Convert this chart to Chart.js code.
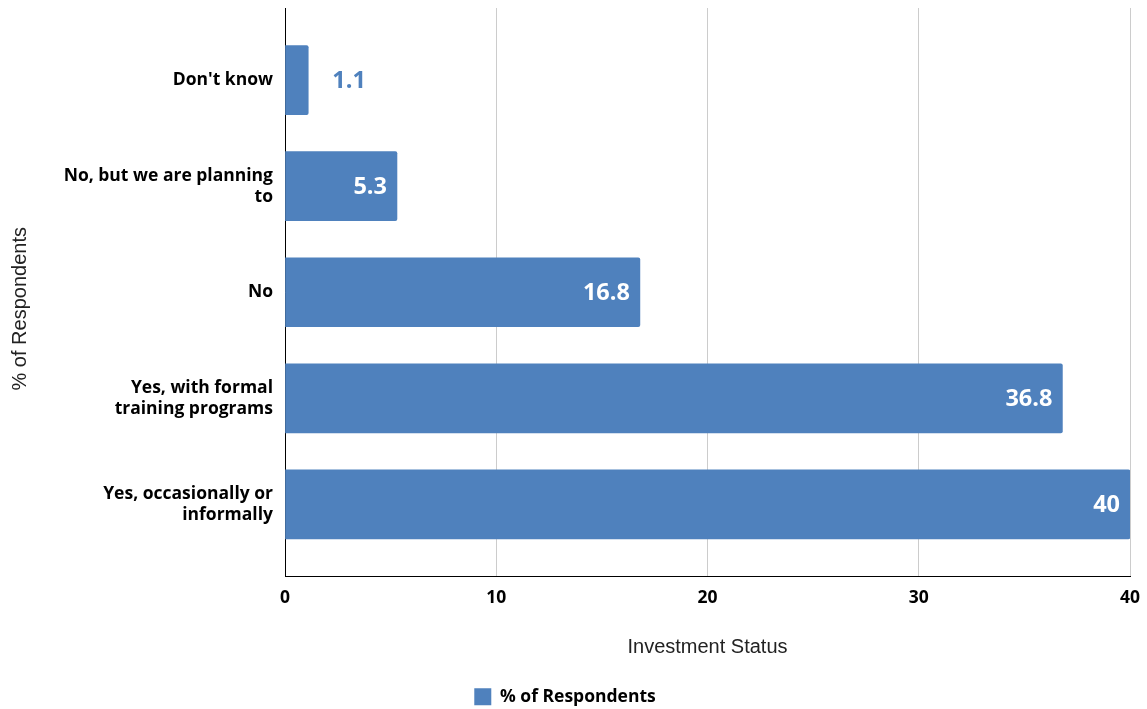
<!DOCTYPE html>
<html>
<head>
<meta charset="utf-8">
<title>Investment Status</title>
<script src="https://cdn.jsdelivr.net/npm/chart.js@4/dist/chart.umd.min.js"></script>
<style>
  html, body { margin: 0; padding: 0; background: #ffffff; }
  #wrap { width: 1147px; height: 709px; }
</style>
</head>
<body>
<div id="wrap"><canvas id="chart" width="1147" height="709"></canvas></div>
<script>
// Categories (top to bottom) and their share of respondents, in percent
const categoryLabels = [
  "Don't know",
  ["No, but we are planning", "to"],
  "No",
  ["Yes, with formal", "training programs"],
  ["Yes, occasionally or", "informally"]
];
const respondentShares = [1.1, 5.3, 16.8, 36.8, 40];
const xTickValues = [0, 10, 20, 30, 40];
const seriesName = '% of Respondents';
const xAxisTitle = 'Investment Status';
const yAxisTitle = '% of Respondents';

const BAR_COLOR = '#4f81bd';
const LABEL_FONT = '"Open Sans", "Noto Sans", sans-serif';
const TITLE_FONT = '"Liberation Sans", Arial, sans-serif';

// Value labels: inside the bar end in white, or just past a short bar in the bar colour
const valueLabels = {
  id: 'valueLabels',
  afterDatasetsDraw(chart) {
    const { ctx } = chart;
    const meta = chart.getDatasetMeta(0);
    ctx.save();
    ctx.font = 'bold 23.5px ' + LABEL_FONT;
    ctx.textBaseline = 'middle';
    meta.data.forEach((bar, i) => {
      const text = String(respondentShares[i]);
      const w = ctx.measureText(text).width;
      const len = bar.x - bar.base;
      if (w + 20 <= len) {
        ctx.fillStyle = '#ffffff';
        ctx.textAlign = 'right';
        ctx.fillText(text, bar.x - 10, bar.y + 1);
      } else {
        ctx.fillStyle = BAR_COLOR;
        ctx.textAlign = 'left';
        ctx.fillText(text, bar.x + 24, bar.y + 1);
      }
    });
    ctx.restore();
  }
};

// Vertical axis title, centred on the band from the plot top to the bottom of the x tick labels
const sideTitle = {
  id: 'sideTitle',
  afterDraw(chart) {
    const { ctx, chartArea } = chart;
    const xs = chart.scales.x;
    const mid = (chartArea.top + xs.top + 33) / 2;
    ctx.save();
    ctx.translate(20, mid);
    ctx.rotate(-Math.PI / 2);
    ctx.font = '20px ' + TITLE_FONT;
    ctx.fillStyle = '#222222';
    ctx.textAlign = 'center';
    ctx.textBaseline = 'middle';
    ctx.fillText(yAxisTitle, 0, 0);
    ctx.restore();
  }
};

new Chart(document.getElementById('chart'), {
  type: 'bar',
  data: {
    datasets: [{
      label: seriesName,
      data: respondentShares.map((v, i) => ({ x: v, y: i })),
      backgroundColor: BAR_COLOR,
      borderRadius: 2,
      barThickness: 69
    }]
  },
  options: {
    indexAxis: 'y',
    responsive: false,
    animation: false,
    devicePixelRatio: 1,
    layout: { padding: { top: 8, right: 17, bottom: -6.5, left: 0 } },
    scales: {
      x: {
        type: 'linear',
        min: 0,
        max: 40,
        afterBuildTicks: s => { s.ticks = xTickValues.map(v => ({ value: v })); },
        afterFit: s => { s.height = 101.5; s.paddingLeft = 0; s.paddingRight = 0; },
        ticks: {
          font: { family: LABEL_FONT, size: 17.5, weight: 'bold' },
          color: '#000000',
          padding: 11
        },
        grid: { color: '#cccccc', lineWidth: 1, drawTicks: false },
        border: { display: true, color: '#000000', width: 1 },
        title: {
          display: true,
          text: xAxisTitle,
          font: { family: TITLE_FONT, size: 20 },
          color: '#222222',
          padding: { top: 28, bottom: 18.5 }
        }
      },
      y: {
        type: 'linear',
        reverse: true,
        offset: false,
        min: -0.68,
        max: 4.68,
        afterBuildTicks: s => { s.ticks = categoryLabels.map((_, i) => ({ value: i })); },
        afterFit: s => { s.width = 285; s.paddingTop = 0; s.paddingBottom = 0; },
        ticks: {
          autoSkip: false,
          callback: v => categoryLabels[v],
          font: { family: LABEL_FONT, size: 17.5, weight: 'bold', lineHeight: 1.2 },
          color: '#000000',
          padding: 12
        },
        grid: { display: false, drawTicks: false, offset: false },
        border: { display: true, color: '#000000', width: 1 }
      }
    },
    plugins: {
      legend: {
        position: 'bottom',
        labels: {
          boxWidth: 17,
          boxHeight: 17,
          padding: 10,
          color: '#000000',
          font: { family: LABEL_FONT, size: 17.5, weight: 'bold' }
        }
      },
      tooltip: { enabled: false }
    }
  },
  plugins: [valueLabels, sideTitle]
});
</script>
</body>
</html>
